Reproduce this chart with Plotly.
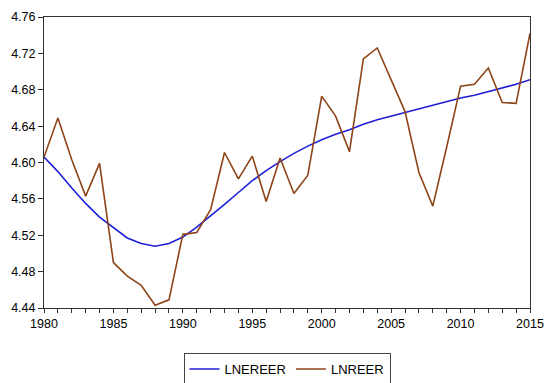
import plotly.graph_objects as go

years = list(range(1980, 2016))
lnreer = [4.606, 4.649, 4.603, 4.563, 4.599, 4.490, 4.475, 4.465, 4.443, 4.449,
          4.521, 4.523, 4.548, 4.611, 4.582, 4.607, 4.557, 4.605, 4.566, 4.586,
          4.673, 4.651, 4.612, 4.714, 4.726, 4.690, 4.656, 4.589, 4.552, 4.617,
          4.684, 4.686, 4.704, 4.666, 4.665, 4.742]
lnereer = [4.606, 4.590, 4.572, 4.555, 4.540, 4.528, 4.517, 4.511, 4.508, 4.511,
           4.518, 4.529, 4.541, 4.554, 4.567, 4.580, 4.591, 4.601, 4.610, 4.618,
           4.625, 4.631, 4.636, 4.642, 4.647, 4.651, 4.655, 4.659, 4.663, 4.667,
           4.671, 4.674, 4.678, 4.682, 4.686, 4.691]
ytick_vals = [4.44, 4.48, 4.52, 4.56, 4.60, 4.64, 4.68, 4.72, 4.76]
xtick_vals = [1980, 1985, 1990, 1995, 2000, 2005, 2010, 2015]

fig = go.Figure()
fig.add_trace(go.Scatter(x=years, y=lnereer, mode="lines", name="LNEREER",
                         line=dict(color="#1e1ed8", width=1.6)))
fig.add_trace(go.Scatter(x=years, y=lnreer, mode="lines", name="LNREER",
                         line=dict(color="#8e4418", width=1.6)))

fig.update_layout(
    width=550, height=383,
    margin=dict(l=44, r=20, t=17, b=75, autoexpand=False),
    paper_bgcolor="white", plot_bgcolor="white",
    font=dict(family="Liberation Sans, Arial, sans-serif", size=12.5, color="black"),
    showlegend=True,
    legend=dict(orientation="h", x=0.5, xanchor="center", y=-0.155, yanchor="top",
                bordercolor="#444444", borderwidth=1, font=dict(size=13),
                itemwidth=30, tracegroupgap=0),
    xaxis=dict(range=[1980, 2015], tickvals=xtick_vals, ticktext=[str(v) for v in xtick_vals],
               ticks="outside", ticklen=4, tickcolor="#333333", tickwidth=1, automargin=False,
               minor=dict(dtick=1, ticks="outside", ticklen=4, tickcolor="#333333", showgrid=False),
               showgrid=False, zeroline=False, showline=True, linecolor="#333333",
               linewidth=1, mirror=True),
    yaxis=dict(range=[4.44, 4.76], tickvals=ytick_vals, automargin=False,
               ticktext=[f"{v:.2f}" for v in ytick_vals],
               ticks="outside", ticklen=5, tickcolor="#333333", tickwidth=1,
               showgrid=False, zeroline=False, showline=True, linecolor="#333333",
               linewidth=1, mirror=True),
)

fig.write_html("out.html", config={"displayModeBar": False},
               post_script="document.body.style.margin='0px';document.body.style.overflow='hidden';")
